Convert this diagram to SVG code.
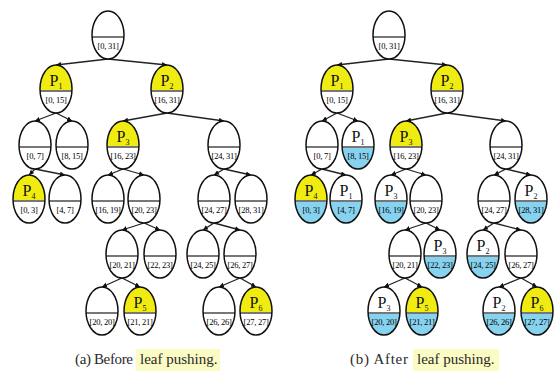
<svg xmlns="http://www.w3.org/2000/svg" xmlns:xlink="http://www.w3.org/1999/xlink" width="554" height="376" viewBox="0 0 554 376">
  <style>
    .edge { stroke: #222; stroke-width: 1.3; fill: none; marker-end: url(#ah); }
    .outline { fill: none; stroke: #111; stroke-width: 1.5; }
    .divider { stroke: #777; stroke-width: 2; }
    .w { fill: #ffffff; }
    .y { fill: #f0ec12; }
    .b { fill: #86d2ef; }
    .p { font-family: "Liberation Serif", "DejaVu Serif", serif; font-size: 16px; fill: #111; text-anchor: middle; }
    .sub { font-size: 8px; }
    .rng { font-family: "Liberation Serif", "DejaVu Serif", serif; font-size: 8.5px; fill: #000; text-anchor: middle; letter-spacing: -0.25px; }
    .cap { font-family: "Liberation Serif", "DejaVu Serif", serif; font-size: 15px; fill: #2a2a2a; }
    .hl { fill: #fbfbc4; }
  </style>
  <defs>
    <marker id="ah" viewBox="0 0 6 6" refX="6" refY="3" markerWidth="5" markerHeight="5" markerUnits="userSpaceOnUse" orient="auto">
      <path d="M0,0 L6,3 L0,6 Z" fill="#111"/>
    </marker>
    <!-- upper and lower halves of a node, split just below the centre -->
    <path id="top" d="M-15.94,2 A16,24 0 1 1 15.94,2 Z"/>
    <path id="bot" d="M-15.94,2 A16,24 0 0 0 15.94,2 Z"/>
    <g id="shell">
      <line class="divider" x1="-16" y1="2" x2="16" y2="2"/>
      <ellipse class="outline" rx="16" ry="24"/>
    </g>
  </defs>

  <rect width="554" height="376" fill="#ffffff"/>

  <!-- connectors -->
  <g id="connectors">
    <!-- tree (a) -->
    <line class="edge" x1="108" y1="59" x2="56" y2="65"/>
    <line class="edge" x1="108" y1="59" x2="167" y2="65"/>
    <line class="edge" x1="56" y1="113" x2="35" y2="121"/>
    <line class="edge" x1="56" y1="113" x2="72" y2="121"/>
    <line class="edge" x1="167" y1="113" x2="123" y2="121"/>
    <line class="edge" x1="167" y1="113" x2="224" y2="121"/>
    <line class="edge" x1="35" y1="169" x2="29" y2="175"/>
    <line class="edge" x1="35" y1="169" x2="65" y2="175"/>
    <line class="edge" x1="123" y1="169" x2="108" y2="175"/>
    <line class="edge" x1="123" y1="169" x2="144" y2="175"/>
    <line class="edge" x1="224" y1="169" x2="214" y2="175"/>
    <line class="edge" x1="224" y1="169" x2="251" y2="175"/>
    <line class="edge" x1="144" y1="223" x2="122" y2="230"/>
    <line class="edge" x1="144" y1="223" x2="160" y2="230"/>
    <line class="edge" x1="214" y1="223" x2="203" y2="230"/>
    <line class="edge" x1="214" y1="223" x2="240" y2="230"/>
    <line class="edge" x1="122" y1="278" x2="102" y2="287"/>
    <line class="edge" x1="122" y1="278" x2="140" y2="287"/>
    <line class="edge" x1="240" y1="278" x2="219" y2="287"/>
    <line class="edge" x1="240" y1="278" x2="256" y2="287"/>
    <!-- tree (b) -->
    <line class="edge" x1="389" y1="59" x2="337" y2="65"/>
    <line class="edge" x1="389" y1="59" x2="447" y2="65"/>
    <line class="edge" x1="337" y1="113" x2="322" y2="121"/>
    <line class="edge" x1="337" y1="113" x2="358" y2="121"/>
    <line class="edge" x1="447" y1="113" x2="406" y2="121"/>
    <line class="edge" x1="447" y1="113" x2="506" y2="121"/>
    <line class="edge" x1="322" y1="169" x2="311" y2="175"/>
    <line class="edge" x1="322" y1="169" x2="346" y2="175"/>
    <line class="edge" x1="406" y1="169" x2="391" y2="175"/>
    <line class="edge" x1="406" y1="169" x2="426" y2="175"/>
    <line class="edge" x1="506" y1="169" x2="494" y2="175"/>
    <line class="edge" x1="506" y1="169" x2="531" y2="175"/>
    <line class="edge" x1="426" y1="223" x2="405" y2="230"/>
    <line class="edge" x1="426" y1="223" x2="440" y2="230"/>
    <line class="edge" x1="494" y1="223" x2="483" y2="230"/>
    <line class="edge" x1="494" y1="223" x2="521" y2="230"/>
    <line class="edge" x1="405" y1="278" x2="384" y2="287"/>
    <line class="edge" x1="405" y1="278" x2="422" y2="287"/>
    <line class="edge" x1="521" y1="278" x2="499" y2="287"/>
    <line class="edge" x1="521" y1="278" x2="537" y2="287"/>
  </g>

  <!-- tree (a): before leaf pushing -->
  <g id="a-0-31" transform="translate(108,35)"><use href="#top" class="w"/><use href="#bot" class="w"/><use href="#shell"/><text class="rng" y="13.5">[0, 31]</text></g>
  <g id="a-0-15" transform="translate(56,89)"><use href="#top" class="y"/><use href="#bot" class="w"/><use href="#shell"/><text class="p" y="-3">P<tspan class="sub" dy="3">1</tspan></text><text class="rng" y="13.5">[0, 15]</text></g>
  <g id="a-16-31" transform="translate(167,89)"><use href="#top" class="y"/><use href="#bot" class="w"/><use href="#shell"/><text class="p" y="-3">P<tspan class="sub" dy="3">2</tspan></text><text class="rng" y="13.5">[16, 31]</text></g>
  <g id="a-0-7" transform="translate(35,145)"><use href="#top" class="w"/><use href="#bot" class="w"/><use href="#shell"/><text class="rng" y="13.5">[0, 7]</text></g>
  <g id="a-8-15" transform="translate(72,145)"><use href="#top" class="w"/><use href="#bot" class="w"/><use href="#shell"/><text class="rng" y="13.5">[8, 15]</text></g>
  <g id="a-16-23" transform="translate(123,145)"><use href="#top" class="y"/><use href="#bot" class="w"/><use href="#shell"/><text class="p" y="-3">P<tspan class="sub" dy="3">3</tspan></text><text class="rng" y="13.5">[16, 23]</text></g>
  <g id="a-24-31" transform="translate(224,145)"><use href="#top" class="w"/><use href="#bot" class="w"/><use href="#shell"/><text class="rng" y="13.5">[24, 31]</text></g>
  <g id="a-0-3" transform="translate(29,199)"><use href="#top" class="y"/><use href="#bot" class="w"/><use href="#shell"/><text class="p" y="-3">P<tspan class="sub" dy="3">4</tspan></text><text class="rng" y="13.5">[0, 3]</text></g>
  <g id="a-4-7" transform="translate(65,199)"><use href="#top" class="w"/><use href="#bot" class="w"/><use href="#shell"/><text class="rng" y="13.5">[4, 7]</text></g>
  <g id="a-16-19" transform="translate(108,199)"><use href="#top" class="w"/><use href="#bot" class="w"/><use href="#shell"/><text class="rng" y="13.5">[16, 19]</text></g>
  <g id="a-20-23" transform="translate(144,199)"><use href="#top" class="w"/><use href="#bot" class="w"/><use href="#shell"/><text class="rng" y="13.5">[20, 23]</text></g>
  <g id="a-24-27" transform="translate(214,199)"><use href="#top" class="w"/><use href="#bot" class="w"/><use href="#shell"/><text class="rng" y="13.5">[24, 27]</text></g>
  <g id="a-28-31" transform="translate(251,199)"><use href="#top" class="w"/><use href="#bot" class="w"/><use href="#shell"/><text class="rng" y="13.5">[28, 31]</text></g>
  <g id="a-20-21" transform="translate(122,254)"><use href="#top" class="w"/><use href="#bot" class="w"/><use href="#shell"/><text class="rng" y="13.5">[20, 21]</text></g>
  <g id="a-22-23" transform="translate(160,254)"><use href="#top" class="w"/><use href="#bot" class="w"/><use href="#shell"/><text class="rng" y="13.5">[22, 23]</text></g>
  <g id="a-24-25" transform="translate(203,254)"><use href="#top" class="w"/><use href="#bot" class="w"/><use href="#shell"/><text class="rng" y="13.5">[24, 25]</text></g>
  <g id="a-26-27" transform="translate(240,254)"><use href="#top" class="w"/><use href="#bot" class="w"/><use href="#shell"/><text class="rng" y="13.5">[26, 27]</text></g>
  <g id="a-20-20" transform="translate(102,311)"><use href="#top" class="w"/><use href="#bot" class="w"/><use href="#shell"/><text class="rng" y="13.5">[20, 20]</text></g>
  <g id="a-21-21" transform="translate(140,311)"><use href="#top" class="y"/><use href="#bot" class="w"/><use href="#shell"/><text class="p" y="-3">P<tspan class="sub" dy="3">5</tspan></text><text class="rng" y="13.5">[21, 21]</text></g>
  <g id="a-26-26" transform="translate(219,311)"><use href="#top" class="w"/><use href="#bot" class="w"/><use href="#shell"/><text class="rng" y="13.5">[26, 26]</text></g>
  <g id="a-27-27" transform="translate(256,311)"><use href="#top" class="y"/><use href="#bot" class="w"/><use href="#shell"/><text class="p" y="-3">P<tspan class="sub" dy="3">6</tspan></text><text class="rng" y="13.5">[27, 27]</text></g>

  <!-- tree (b): after leaf pushing -->
  <g id="b-0-31" transform="translate(389,35)"><use href="#top" class="w"/><use href="#bot" class="w"/><use href="#shell"/><text class="rng" y="13.5">[0, 31]</text></g>
  <g id="b-0-15" transform="translate(337,89)"><use href="#top" class="y"/><use href="#bot" class="w"/><use href="#shell"/><text class="p" y="-3">P<tspan class="sub" dy="3">1</tspan></text><text class="rng" y="13.5">[0, 15]</text></g>
  <g id="b-16-31" transform="translate(447,89)"><use href="#top" class="y"/><use href="#bot" class="w"/><use href="#shell"/><text class="p" y="-3">P<tspan class="sub" dy="3">2</tspan></text><text class="rng" y="13.5">[16, 31]</text></g>
  <g id="b-0-7" transform="translate(322,145)"><use href="#top" class="w"/><use href="#bot" class="w"/><use href="#shell"/><text class="rng" y="13.5">[0, 7]</text></g>
  <g id="b-8-15" transform="translate(358,145)"><use href="#top" class="w"/><use href="#bot" class="b"/><use href="#shell"/><text class="p" y="-3">P<tspan class="sub" dy="3">1</tspan></text><text class="rng" y="13.5">[8, 15]</text></g>
  <g id="b-16-23" transform="translate(406,145)"><use href="#top" class="y"/><use href="#bot" class="w"/><use href="#shell"/><text class="p" y="-3">P<tspan class="sub" dy="3">3</tspan></text><text class="rng" y="13.5">[16, 23]</text></g>
  <g id="b-24-31" transform="translate(506,145)"><use href="#top" class="w"/><use href="#bot" class="w"/><use href="#shell"/><text class="rng" y="13.5">[24, 31]</text></g>
  <g id="b-0-3" transform="translate(311,199)"><use href="#top" class="y"/><use href="#bot" class="b"/><use href="#shell"/><text class="p" y="-3">P<tspan class="sub" dy="3">4</tspan></text><text class="rng" y="13.5">[0, 3]</text></g>
  <g id="b-4-7" transform="translate(346,199)"><use href="#top" class="w"/><use href="#bot" class="b"/><use href="#shell"/><text class="p" y="-3">P<tspan class="sub" dy="3">1</tspan></text><text class="rng" y="13.5">[4, 7]</text></g>
  <g id="b-16-19" transform="translate(391,199)"><use href="#top" class="w"/><use href="#bot" class="b"/><use href="#shell"/><text class="p" y="-3">P<tspan class="sub" dy="3">3</tspan></text><text class="rng" y="13.5">[16, 19]</text></g>
  <g id="b-20-23" transform="translate(426,199)"><use href="#top" class="w"/><use href="#bot" class="w"/><use href="#shell"/><text class="rng" y="13.5">[20, 23]</text></g>
  <g id="b-24-27" transform="translate(494,199)"><use href="#top" class="w"/><use href="#bot" class="w"/><use href="#shell"/><text class="rng" y="13.5">[24, 27]</text></g>
  <g id="b-28-31" transform="translate(531,199)"><use href="#top" class="w"/><use href="#bot" class="b"/><use href="#shell"/><text class="p" y="-3">P<tspan class="sub" dy="3">2</tspan></text><text class="rng" y="13.5">[28, 31]</text></g>
  <g id="b-20-21" transform="translate(405,254)"><use href="#top" class="w"/><use href="#bot" class="w"/><use href="#shell"/><text class="rng" y="13.5">[20, 21]</text></g>
  <g id="b-22-23" transform="translate(440,254)"><use href="#top" class="w"/><use href="#bot" class="b"/><use href="#shell"/><text class="p" y="-3">P<tspan class="sub" dy="3">3</tspan></text><text class="rng" y="13.5">[22, 23]</text></g>
  <g id="b-24-25" transform="translate(483,254)"><use href="#top" class="w"/><use href="#bot" class="b"/><use href="#shell"/><text class="p" y="-3">P<tspan class="sub" dy="3">2</tspan></text><text class="rng" y="13.5">[24, 25]</text></g>
  <g id="b-26-27" transform="translate(521,254)"><use href="#top" class="w"/><use href="#bot" class="w"/><use href="#shell"/><text class="rng" y="13.5">[26, 27]</text></g>
  <g id="b-20-20" transform="translate(384,311)"><use href="#top" class="w"/><use href="#bot" class="b"/><use href="#shell"/><text class="p" y="-3">P<tspan class="sub" dy="3">3</tspan></text><text class="rng" y="13.5">[20, 20]</text></g>
  <g id="b-21-21" transform="translate(422,311)"><use href="#top" class="y"/><use href="#bot" class="b"/><use href="#shell"/><text class="p" y="-3">P<tspan class="sub" dy="3">5</tspan></text><text class="rng" y="13.5">[21, 21]</text></g>
  <g id="b-26-26" transform="translate(499,311)"><use href="#top" class="w"/><use href="#bot" class="b"/><use href="#shell"/><text class="p" y="-3">P<tspan class="sub" dy="3">2</tspan></text><text class="rng" y="13.5">[26, 26]</text></g>
  <g id="b-27-27" transform="translate(537,311)"><use href="#top" class="y"/><use href="#bot" class="b"/><use href="#shell"/><text class="p" y="-3">P<tspan class="sub" dy="3">6</tspan></text><text class="rng" y="13.5">[27, 27]</text></g>

  <!-- captions -->
  <g id="caption-a">
    <rect class="hl" x="136" y="349" width="84" height="22"/>
    <text class="cap" x="75" y="364" textLength="58" lengthAdjust="spacing">(a) Before</text>
    <text class="cap" x="140" y="364">leaf pushing.</text>
  </g>
  <g id="caption-b">
    <rect class="hl" x="413" y="349" width="86" height="22"/>
    <text class="cap" x="350" y="364" textLength="58" lengthAdjust="spacing">(b) After</text>
    <text class="cap" x="417" y="364">leaf pushing.</text>
  </g>
</svg>
